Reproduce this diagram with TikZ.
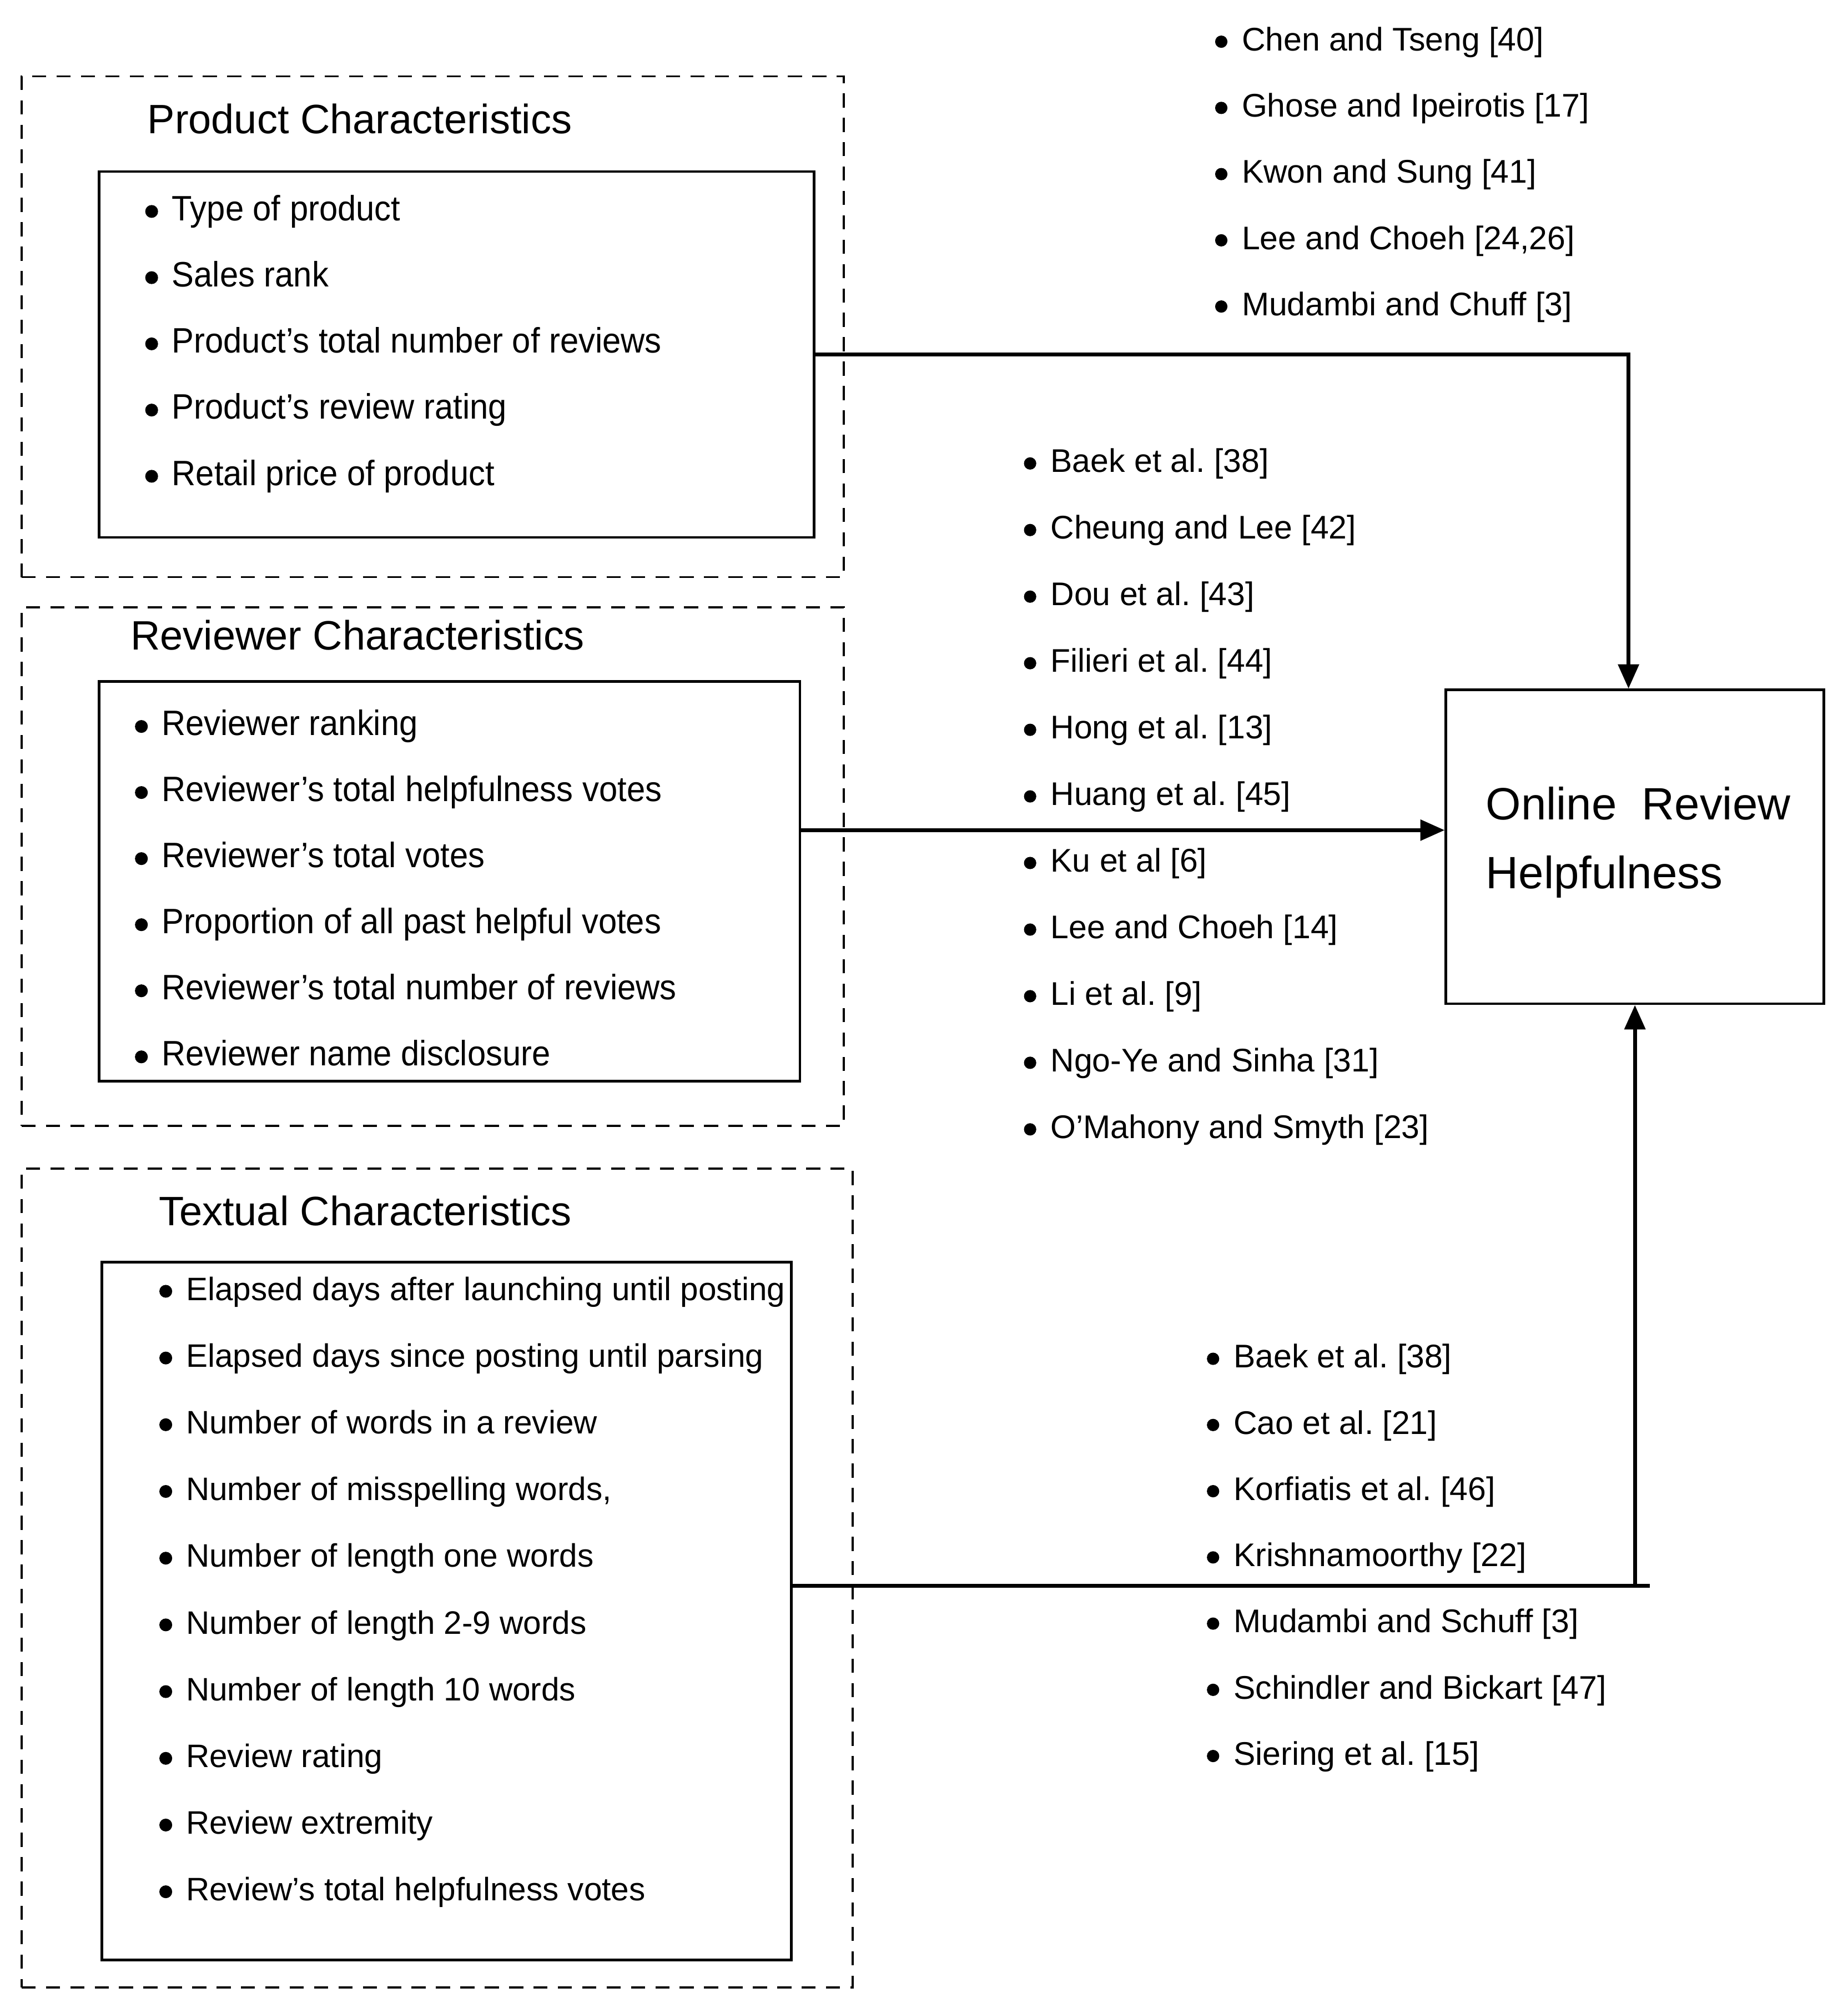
\documentclass[tikz,border=0pt]{standalone}
\usepackage{fontspec}
\setmainfont{Liberation Sans}
\newfontfamily\narrowsans[FakeStretch=0.94]{Liberation Sans}
\usetikzlibrary{arrows.meta}
\frenchspacing

\begin{document}
\begin{tikzpicture}[x=1pt,y=-1pt]
  \tikzstyle{panel} = [draw,dash pattern=on 11pt off 8pt,line width=1.6pt,inner sep=0pt,minimum width=641pt]
  \tikzstyle{listbox} = [draw,line width=2pt,inner sep=0pt]
  \tikzstyle{target} = [draw,line width=2pt,inner sep=0pt,minimum width=294.6pt,minimum height=244.6pt]
  \tikzstyle{heading} = [anchor=base west,inner sep=0pt,font=\fontsize{32}{36}\selectfont]
  \tikzstyle{entry} = [anchor=base west,inner sep=0pt,font=\fontsize{25.5}{30}\selectfont]
  \tikzstyle{narrow} = [entry,font=\narrowsans\fontsize{27.5}{30}\selectfont]
  \tikzstyle{link} = [line width=3pt]
  \tikzstyle{arrow} = [link,-{Triangle[length=19pt,width=16pt]}]
  %
  \useasboundingbox (0,0) rectangle (1440,1565);
  % Group boxes.
  \node[panel,minimum height=390.3pt] (pgroup) at (337.3,254.65) {};
  \node[panel,minimum height=404.4pt] (rgroup) at (337.3,675.4) {};
  \node[panel,minimum width=647.7pt,minimum height=638.1pt] (tgroup) at (340.65,1229.95) {};
  \node[heading] (ptitle) at (114.8,104.1) {Product Characteristics};
  \node[heading] (rtitle) at (101.6,506.5) {Reviewer Characteristics};
  \node[heading] (ttitle) at (123.6,955) {Textual Characteristics};
  % Inner boxes.
  \node[listbox,minimum width=557.2pt,minimum height=285.2pt] (pin) at (355.9,276.3) {};
  \node[listbox,minimum width=546.2pt,minimum height=311.5pt] (rin) at (350.4,686.95) {};
  \node[listbox,minimum width=537.3pt,minimum height=543.9pt] (tin) at (348.15,1255.55) {};
  % Target box.
  \node[target] (orbox) at (1274.3,660) {};
  \node[anchor=base west,inner sep=0pt,font=\fontsize{35.3}{40}\selectfont] (orline1) at (1158,638.7) {Online\ \ Review};
  \node[anchor=base west,inner sep=0pt,font=\fontsize{35.3}{40}\selectfont] (orline2) at (1158,692.3) {Helpfulness};

  % Product list.
  \foreach \t [count=\i] in {Type of product, Sales rank, Product’s total number of reviews,
      Product’s review rating, Retail price of product} {
    \node[narrow] (p\i) at (133.8,120.2+51.6*\i) {\t};
    \fill (p\i.base west) ++(-15.6,-7) circle (5);
  }
  % Reviewer list.
  \foreach \t [count=\i] in {Reviewer ranking, Reviewer’s total helpfulness votes, Reviewer’s total votes,
      Proportion of all past helpful votes, Reviewer’s total number of reviews, Reviewer name disclosure} {
    \node[narrow] (r\i) at (125.8,521.7+51.5*\i) {\t};
    \fill (r\i.base west) ++(-15.6,-7) circle (5);
  }
  % Textual list.
  \foreach \t [count=\i] in {Elapsed days after launching until posting, Elapsed days since posting until parsing,
      Number of words in a review, {Number of misspelling words,}, Number of length one words,
      Number of length 2-9 words, Number of length 10 words, Review rating, Review extremity,
      Review’s total helpfulness votes} {
    \node[entry,font=\fontsize{25.3}{30}\selectfont] (t\i) at (144.8,961.4+52*\i) {\t};
    \fill (t\i.base west) ++(-15.6,-7) circle (5);
  }

  % Reference lists.
  \foreach \t [count=\i] in {Chen and Tseng [40], Ghose and Ipeirotis [17], Kwon and Sung [41],
      {Lee and Choeh [24,26]}, Mudambi and Chuff [3]} {
    \node[entry] (a\i) at (967.7,-12.1+51.6*\i) {\t};
    \fill (a\i.base west) ++(-15.8,-7) circle (4.8);
  }
  \foreach \t [count=\i] in {Baek et al. [38], Cheung and Lee [42], Dou et al. [43], Filieri et al. [44],
      Hong et al. [13], Huang et al. [45], Ku et al [6], Lee and Choeh [14], Li et al. [9],
      Ngo-Ye and Sinha [31], O’Mahony and Smyth [23]} {
    \node[entry] (b\i) at (818.7,316.3+51.9*\i) {\t};
    \fill (b\i.base west) ++(-15.8,-7) circle (4.8);
  }
  \foreach \t [count=\i] in {Baek et al. [38], Cao et al. [21], Korfiatis et al. [46], Krishnamoorthy [22],
      Mudambi and Schuff [3], Schindler and Bickart [47], Siering et al. [15]} {
    \node[entry] (c\i) at (961.3,1014.4+51.6*\i) {\t};
    \fill (c\i.base west) ++(-15.8,-7) circle (4.8);
  }

  % Draw connectors.
  \draw[arrow] (pin.east) -| ([xshift=-5pt]orbox.north);
  \draw[arrow] (rin.east |- 0,647) -- (orbox.west |- 0,647);
  \coordinate (tend) at (1286,1236);
  \draw[link] (tin.east |- tend) -- (tend);
  \draw[arrow] (orbox.south |- tend) -- (orbox.south);
\end{tikzpicture}
\end{document}
